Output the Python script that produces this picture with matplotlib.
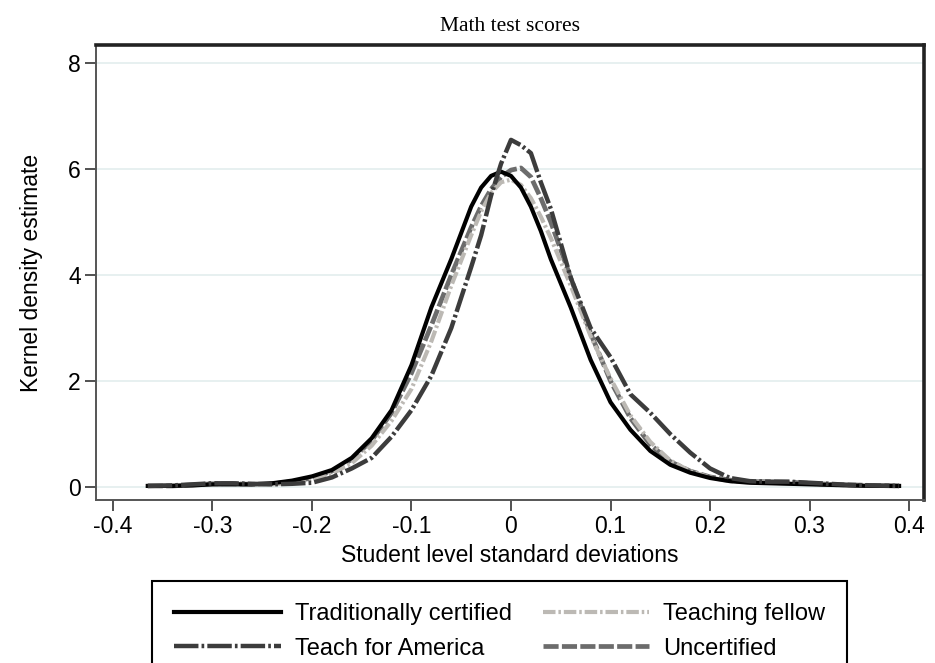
import matplotlib
matplotlib.use('Agg')
import matplotlib.pyplot as plt

# общая сетка по оси x (стандартные отклонения)
x = [-0.365, -0.34, -0.32, -0.30, -0.28, -0.26, -0.24, -0.22, -0.20, -0.18, -0.16, -0.14,
     -0.12, -0.10, -0.08, -0.06, -0.04, -0.03, -0.02, -0.01, 0.0, 0.01, 0.02, 0.03, 0.04,
     0.06, 0.08, 0.10, 0.12, 0.14, 0.16, 0.18, 0.20, 0.22, 0.24, 0.26, 0.28, 0.30, 0.32,
     0.34, 0.36, 0.39]

trad = [0.02, 0.02, 0.03, 0.05, 0.05, 0.05, 0.07, 0.12, 0.20, 0.32, 0.55, 0.92,
        1.45, 2.30, 3.39, 4.30, 5.29, 5.65, 5.87, 5.95, 5.87, 5.65, 5.29, 4.83, 4.30,
        3.39, 2.40, 1.60, 1.08, 0.68, 0.42, 0.27, 0.17, 0.11, 0.08, 0.07, 0.06, 0.05, 0.04,
        0.03, 0.02, 0.02]

tfa = [0.02, 0.03, 0.05, 0.07, 0.07, 0.06, 0.05, 0.06, 0.08, 0.18, 0.35, 0.55,
       0.95, 1.45, 2.10, 3.00, 4.15, 4.75, 5.50, 6.10, 6.55, 6.45, 6.30, 5.75, 5.25,
       3.95, 3.00, 2.45, 1.75, 1.40, 1.00, 0.65, 0.35, 0.17, 0.11, 0.10, 0.10, 0.08, 0.06,
       0.04, 0.03, 0.02]

fellow = [0.02, 0.02, 0.03, 0.05, 0.06, 0.05, 0.05, 0.08, 0.14, 0.25, 0.45, 0.78,
          1.25, 1.85, 2.75, 3.80, 4.75, 5.20, 5.55, 5.75, 5.80, 5.70, 5.45, 5.10, 4.70,
          3.80, 2.85, 2.05, 1.35, 0.85, 0.50, 0.30, 0.18, 0.11, 0.09, 0.08, 0.07, 0.06, 0.04,
          0.03, 0.02, 0.02]

uncert = [0.02, 0.02, 0.04, 0.06, 0.06, 0.05, 0.06, 0.10, 0.17, 0.30, 0.52, 0.88,
          1.40, 2.15, 3.05, 4.00, 4.90, 5.30, 5.62, 5.85, 5.98, 6.02, 5.85, 5.45, 5.00,
          3.95, 2.90, 2.00, 1.30, 0.80, 0.48, 0.30, 0.19, 0.13, 0.10, 0.10, 0.09, 0.07, 0.05,
          0.04, 0.03, 0.02]

xticks = [-0.4, -0.3, -0.2, -0.1, 0, 0.1, 0.2, 0.3, 0.4]
xtick_labels = ['-0.4', '-0.3', '-0.2', '-0.1', '0', '0.1', '0.2', '0.3', '0.4']
yticks = [0, 2, 4, 6, 8]

plt.rcParams['font.family'] = ['Liberation Sans', 'DejaVu Sans']

fig = plt.figure(figsize=(9.35, 6.63), dpi=100)
ax = fig.add_axes([0.1027, 0.2459, 0.8855, 0.6862])

for y in yticks:
    ax.axhline(y, color='#e3eeee', lw=1.2, zorder=0)

ax.plot(x, uncert, color='#6c6c6c', lw=3.4, dashes=(3.2, 0.7), label='Uncertified', zorder=2)
ax.plot(x, fellow, color='#bcb9b4', lw=3.0, dashes=(3, 0.7, 0.6, 0.7), label='Teaching fellow', zorder=3)
ax.plot(x, trad, color='black', lw=3.0, label='Traditionally certified', zorder=4)
ax.plot(x, tfa, color='#3c3c3c', lw=3.2, dashes=(5.5, 0.7, 0.6, 0.7), label='Teach for America', zorder=5)

ax.set_xlim(-0.417, 0.415)
ax.set_ylim(-0.245, 8.34)
ax.set_xticks(xticks)
ax.set_xticklabels(xtick_labels)
ax.set_yticks(yticks)
ax.tick_params(labelsize=16.5, length=8, width=1.2, color='#333333', pad=3)

for s in ['top', 'right']:
    ax.spines[s].set_linewidth(2.6)
    ax.spines[s].set_color('#222222')
for s in ['left', 'bottom']:
    ax.spines[s].set_linewidth(1.4)
    ax.spines[s].set_color('#555555')

ax.set_xlabel('Student level standard deviations', fontsize=16.5, labelpad=4)
ax.set_ylabel('Kernel density estimate', fontsize=16.5, labelpad=18)
ax.set_title('Math test scores', fontsize=15.5, family='Liberation Serif', pad=10)

h, l = ax.get_legend_handles_labels()
order = [2, 3, 1, 0]
leg = fig.legend([h[i] for i in order], [l[i] for i in order], ncol=2,
                 loc='upper left', bbox_to_anchor=(152 / 935, 1 - 581 / 663),
                 fontsize=17, handlelength=4.5, handletextpad=0.6, columnspacing=1.3,
                 fancybox=False, edgecolor='black', framealpha=1, borderpad=0.95,
                 labelspacing=0.52, borderaxespad=0)
leg.get_frame().set_linewidth(1.5)

fig.savefig('out.png', dpi=100)
